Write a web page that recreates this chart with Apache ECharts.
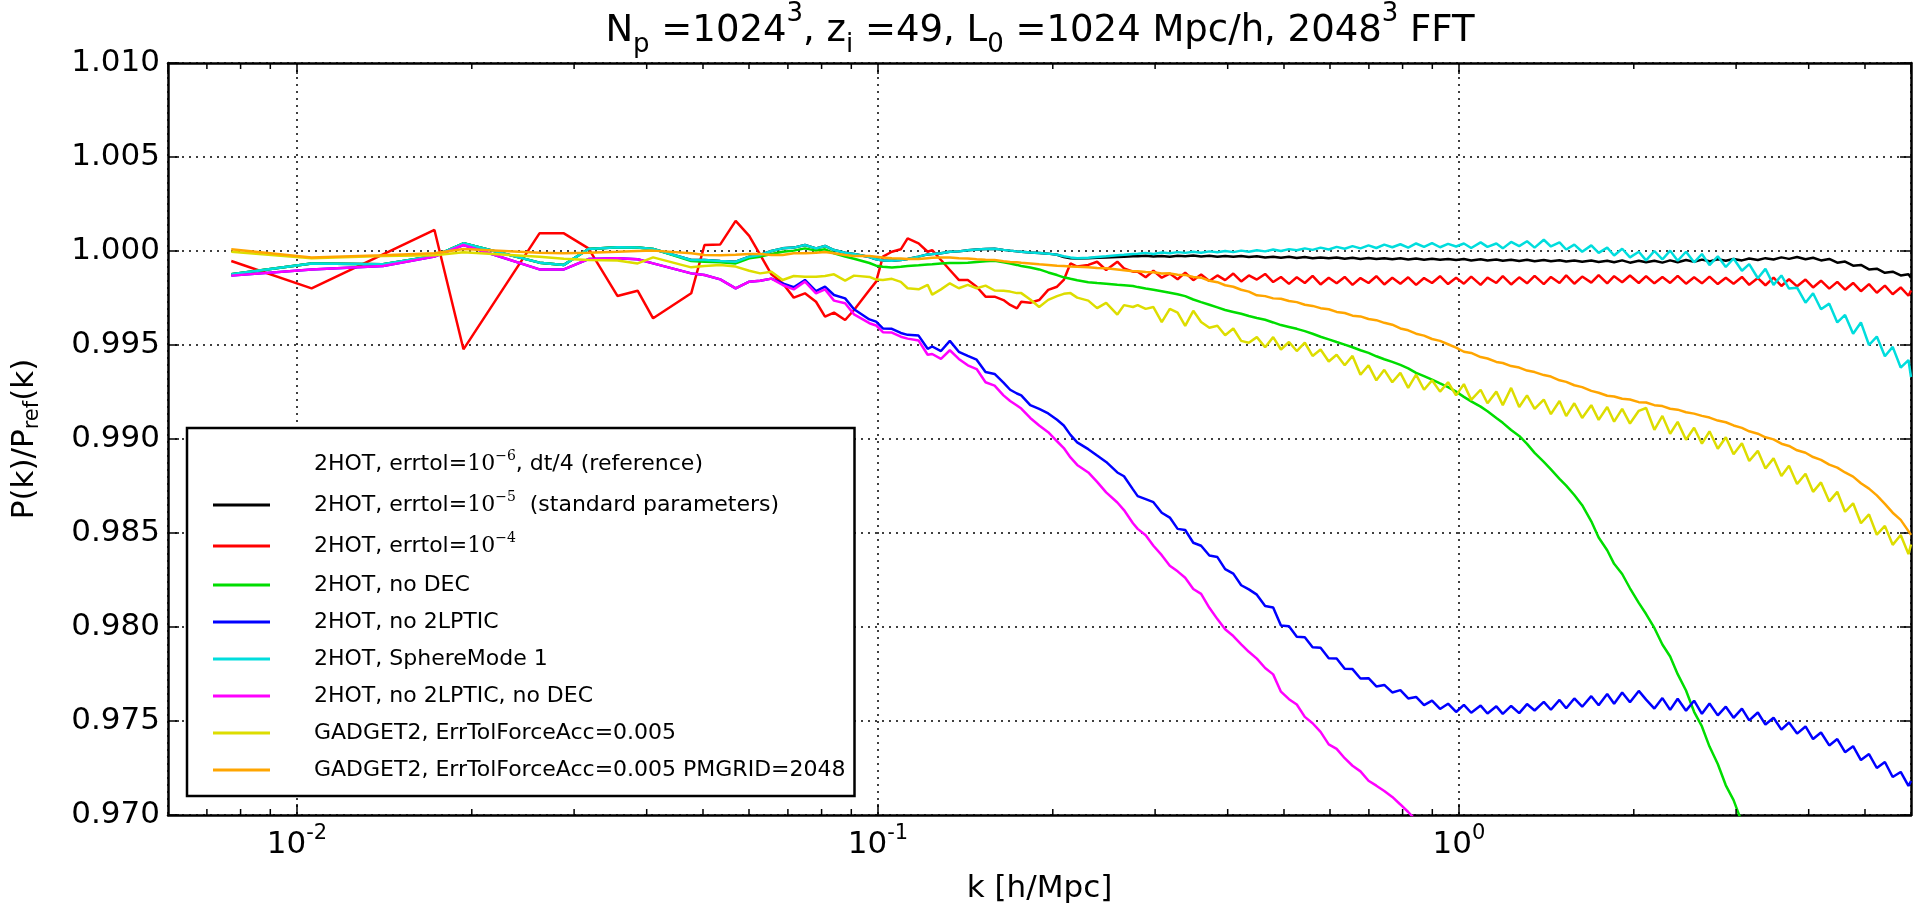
<!DOCTYPE html>
<html>
<head>
<meta charset="utf-8">
<script src="https://cdn.jsdelivr.net/npm/echarts@6/dist/echarts.min.js"></script>
<style>
  html, body { margin: 0; height: 100%; background: #fff; }
  #chart { width: 1923px; height: 910px; }
</style>
</head>
<body>
<div id="chart"></div>
<script>
// k bins [h/Mpc]: discrete low-k points, mid range, dense high-k range
const kLow = [0.00771, 0.0106, 0.01407, 0.01725, 0.01935, 0.02615, 0.02881, 0.03176, 0.03562, 0.03859,
  0.04103, 0.04772, 0.0503, 0.05354, 0.05691, 0.06005, 0.06273, 0.06557, 0.06857, 0.07164,
  0.07489, 0.07825, 0.0811, 0.08403, 0.08782, 0.09098];
const kMid = [0.0967, 0.0993, 0.102, 0.1057, 0.1095, 0.1125, 0.1175, 0.1218, 0.124, 0.1284,
  0.133, 0.1378, 0.1428, 0.1479, 0.1532, 0.1588, 0.1645, 0.1689, 0.1735, 0.1765,
  0.1829, 0.1895, 0.1964, 0.2034, 0.2089, 0.2145, 0.2203, 0.2302, 0.2384, 0.2471,
  0.2583, 0.2652, 0.2748];
const kHigh = [0.280, 0.289, 0.298, 0.308, 0.318, 0.328, 0.338, 0.349, 0.360, 0.372,
  0.384, 0.396, 0.409, 0.422, 0.435, 0.449, 0.464, 0.479, 0.494, 0.510,
  0.526, 0.543, 0.560, 0.578, 0.597, 0.616, 0.636, 0.656, 0.677, 0.699,
  0.721, 0.744, 0.768, 0.793, 0.818, 0.844, 0.871, 0.899, 0.928, 0.958,
  0.989, 1.02, 1.05, 1.09, 1.12, 1.16, 1.19, 1.23, 1.27, 1.31,
  1.35, 1.40, 1.44, 1.49, 1.53, 1.58, 1.63, 1.69, 1.74, 1.80,
  1.85, 1.91, 1.97, 2.04, 2.10, 2.17, 2.24, 2.31, 2.38, 2.46,
  2.54, 2.62, 2.70, 2.79, 2.88, 2.97, 3.07, 3.16, 3.27, 3.37,
  3.48, 3.59, 3.70, 3.82, 3.95, 4.07, 4.20, 4.34, 4.48, 4.62,
  4.77, 4.92, 5.08, 5.24, 5.41, 5.58, 5.76, 5.94, 6.00];
const kAll = kLow.concat(kMid, kHigh);

// P(k)/P_ref(k), in kAll order
const errtol5 = [
  0.99876, 0.99934, 0.99929, 0.99973, 1.00041, 0.99938, 0.99926, 1.00011, 1.0002, 1.00018,
  1.00011, 0.99952, 0.99952, 0.99947, 0.99943, 0.9997, 0.99979, 1.0, 1.00014, 1.00018,
  1.00032, 1.00014, 1.00027, 1.00005, 0.99991, 0.99984,
  0.99968, 0.99956, 0.9995, 0.99948, 0.99952, 0.99958, 0.9997, 0.99982, 0.99984, 0.99988,
  0.99996, 0.99998, 1.00004, 1.00008, 1.0001, 1.00012, 1.00006, 1.00002, 0.99998, 0.99996,
  0.99992, 0.9999, 0.99986, 0.9998, 0.99968, 0.99962, 0.9996, 0.99962, 0.99964, 0.99966,
  0.99968, 0.9997, 0.99972,
  0.99972, 0.99975, 0.99971, 0.99974, 0.99970, 0.99975, 0.99972, 0.99976, 0.99971, 0.99975,
  0.99970, 0.99974, 0.99969, 0.99973, 0.99968, 0.99972, 0.99966, 0.99970, 0.99964, 0.99969,
  0.99963, 0.99968, 0.99962, 0.99966, 0.99961, 0.99965, 0.99959, 0.99964, 0.99958, 0.99963,
  0.99957, 0.99962, 0.99956, 0.99961, 0.99955, 0.99960, 0.99954, 0.99959, 0.99953, 0.99958,
  0.99952, 0.99957, 0.99950, 0.99956, 0.99949, 0.99955, 0.99948, 0.99954, 0.99947, 0.99953,
  0.99946, 0.99952, 0.99945, 0.99951, 0.99944, 0.99950, 0.99943, 0.99949, 0.99942, 0.99948,
  0.99940, 0.99950, 0.99938, 0.99948, 0.99940, 0.99948, 0.99938, 0.99950, 0.99940, 0.99952,
  0.99942, 0.99954, 0.99945, 0.99956, 0.99948, 0.99958, 0.99950, 0.99960, 0.99952, 0.99962,
  0.99955, 0.99966, 0.99958, 0.99968, 0.99956, 0.99964, 0.99950, 0.99958, 0.99938, 0.99944,
  0.99922, 0.99926, 0.99902, 0.99906, 0.99884, 0.99890, 0.99870, 0.99876, 0.99858];
const errtol4 = [
  0.99947, 0.99801, 0.99982, 1.00112, 0.99477, 1.00094, 1.00094, 1.00014, 0.99761, 0.99789,
  0.99642, 0.99775, 1.00032, 1.00035, 1.0016, 1.0008, 0.99979, 0.99876, 0.99828, 0.99752,
  0.99775, 0.9973, 0.99651, 0.99672, 0.99633, 0.99686,
  0.99793, 0.99837, 0.9997, 0.99996, 1.00009, 1.00067, 1.00041, 0.99996, 1.00005, 0.99952,
  0.99899, 0.99846, 0.99846, 0.9981, 0.99757, 0.99757, 0.99739, 0.99713, 0.99695, 0.9973,
  0.99725, 0.99739, 0.99793, 0.9981, 0.99846, 0.99934, 0.99917, 0.99926, 0.99943, 0.99899,
  0.99943, 0.99908, 0.9989,
  0.99890, 0.99860, 0.99895, 0.99858, 0.99880, 0.99850, 0.99885, 0.99845, 0.99875, 0.99840,
  0.99870, 0.99845, 0.99880, 0.99838, 0.99870, 0.99848, 0.99878, 0.99835, 0.99862, 0.99825,
  0.99860, 0.99830, 0.99868, 0.99822, 0.99858, 0.99828, 0.99862, 0.99820, 0.99856, 0.99830,
  0.99866, 0.99822, 0.99858, 0.99826, 0.99860, 0.99820, 0.99856, 0.99830, 0.99866, 0.99824,
  0.99858, 0.99826, 0.99864, 0.99820, 0.99858, 0.99830, 0.99866, 0.99822, 0.99860, 0.99828,
  0.99868, 0.99824, 0.99862, 0.99830, 0.99870, 0.99826, 0.99864, 0.99832, 0.99872, 0.99828,
  0.99866, 0.99834, 0.99870, 0.99830, 0.99866, 0.99828, 0.99862, 0.99830, 0.99868, 0.99826,
  0.99860, 0.99828, 0.99864, 0.99824, 0.99858, 0.99826, 0.99862, 0.99820, 0.99856, 0.99818,
  0.99858, 0.99814, 0.99850, 0.99812, 0.99848, 0.99806, 0.99842, 0.99800, 0.99836, 0.99794,
  0.99830, 0.99786, 0.99824, 0.99778, 0.99816, 0.99770, 0.99806, 0.99762, 0.99790];
const noDEC = [
  0.99876, 0.99934, 0.99929, 0.99973, 1.00041, 0.99938, 0.99926, 1.00011, 1.0002, 1.00018,
  1.00011, 0.99947, 0.99943, 0.9994, 0.99934, 0.99961, 0.9997, 0.99984, 0.99996, 1.00002,
  1.00014, 1.00002, 1.00009, 0.99988, 0.9997, 0.99959,
  0.99936, 0.99922, 0.99916, 0.99912, 0.99916, 0.9992, 0.99924, 0.99928, 0.9993, 0.99934,
  0.99936, 0.99936, 0.99938, 0.99942, 0.99946, 0.99948, 0.9994, 0.99934, 0.99926, 0.9992,
  0.99912, 0.99902, 0.99886, 0.99872, 0.9986, 0.99852, 0.99844, 0.99834, 0.9983, 0.99826,
  0.9982, 0.99818, 0.99814,
  0.99808, 0.99800, 0.99794, 0.99786, 0.99778, 0.99770, 0.99760, 0.99742, 0.99728, 0.99714,
  0.99700, 0.99686, 0.99676, 0.99666, 0.99654, 0.99644, 0.99634, 0.99620, 0.99606, 0.99596,
  0.99586, 0.99574, 0.99560, 0.99544, 0.99530, 0.99516, 0.99502, 0.99488, 0.99472, 0.99458,
  0.99440, 0.99424, 0.99410, 0.99394, 0.99376, 0.99352, 0.99334, 0.99316, 0.99296, 0.99276,
  0.99252, 0.99224, 0.99200, 0.99172, 0.99148, 0.99112, 0.99086, 0.99048, 0.99016, 0.98974,
  0.98926, 0.98878, 0.98838, 0.98788, 0.98752, 0.98702, 0.98648, 0.98562, 0.98476, 0.98408,
  0.98336, 0.98282, 0.98206, 0.98128, 0.98069, 0.97995, 0.97907, 0.97843, 0.97749, 0.97662,
  0.97549, 0.97471, 0.97364, 0.97271, 0.97158, 0.97079, 0.96960];
const no2LPTIC = [
  0.99869, 0.99902, 0.9992, 0.9997, 1.00032, 0.99902, 0.99902, 0.99957, 0.99961, 0.99956,
  0.99934, 0.99881, 0.99872, 0.99849, 0.99801, 0.99837, 0.99842, 0.99853, 0.99828, 0.99807,
  0.99846, 0.99787, 0.9981, 0.99766, 0.99748, 0.9969,
  0.99636, 0.99624, 0.99588, 0.99586, 0.99564, 0.99554, 0.9955, 0.9948, 0.99492, 0.99468,
  0.99522, 0.99464, 0.99442, 0.99422, 0.99356, 0.99346, 0.993, 0.99262, 0.99242, 0.99232,
  0.9918, 0.9916, 0.99136, 0.99102, 0.99072, 0.99022, 0.98982, 0.98946, 0.98912, 0.98878,
  0.98822, 0.98802, 0.98732,
  0.98696, 0.98680, 0.98664, 0.98608, 0.98582, 0.98522, 0.98516, 0.98448, 0.98432, 0.98380,
  0.98372, 0.98308, 0.98284, 0.98222, 0.98200, 0.98172, 0.98112, 0.98104, 0.98008, 0.98004,
  0.97948, 0.97946, 0.97892, 0.97890, 0.97834, 0.97832, 0.97778, 0.97776, 0.97726, 0.97728,
  0.97684, 0.97692, 0.97652, 0.97664, 0.97620, 0.97628, 0.97584, 0.97608, 0.97564, 0.97592,
  0.97548, 0.97586, 0.97544, 0.97582, 0.97540, 0.97578, 0.97538, 0.97580, 0.97542, 0.97590,
  0.97556, 0.97602, 0.97560, 0.97612, 0.97568, 0.97620, 0.97576, 0.97632, 0.97584, 0.97644,
  0.97592, 0.97652, 0.97600, 0.97660, 0.97614, 0.97566, 0.97622, 0.97559, 0.97618, 0.97555,
  0.97608, 0.97538, 0.97593, 0.97530, 0.97576, 0.97517, 0.97566, 0.97503, 0.97545, 0.97481,
  0.97517, 0.97454, 0.97492, 0.97433, 0.97471, 0.97404, 0.97439, 0.97370, 0.97404, 0.97334,
  0.97366, 0.97292, 0.97324, 0.97250, 0.97282, 0.97202, 0.97229, 0.97155, 0.97181];
const sphereMode1 = [
  0.99876, 0.99934, 0.99929, 0.99973, 1.00041, 0.99938, 0.99926, 1.00011, 1.0002, 1.00018,
  1.00011, 0.99952, 0.99952, 0.99947, 0.99943, 0.9997, 0.99979, 1.0, 1.00014, 1.00018,
  1.00032, 1.00014, 1.00027, 1.00005, 0.99991, 0.99984,
  0.99968, 0.99956, 0.9995, 0.99948, 0.99952, 0.99958, 0.9997, 0.99982, 0.99984, 0.99988,
  0.99996, 0.99998, 1.00004, 1.00008, 1.0001, 1.00012, 1.00006, 1.00002, 0.99998, 0.99996,
  0.99992, 0.9999, 0.99986, 0.9998, 0.99972, 0.99966, 0.99962, 0.99964, 0.99968, 0.99972,
  0.99978, 0.9998, 0.99984,
  0.99986, 0.99990, 0.99984, 0.99992, 0.99988, 0.99994, 0.99990, 0.99996, 0.99991, 0.99998,
  0.99993, 1.00000, 0.99994, 1.00002, 0.99996, 1.00004, 0.99998, 1.00008, 1.00000, 1.00010,
  1.00004, 1.00014, 1.00006, 1.00018, 1.00008, 1.00022, 1.00012, 1.00026, 1.00014, 1.00030,
  1.00016, 1.00034, 1.00020, 1.00036, 1.00018, 1.00040, 1.00022, 1.00042, 1.00020, 1.00038,
  1.00024, 1.00040, 1.00016, 1.00046, 1.00022, 1.00040, 1.00014, 1.00048, 1.00026, 1.00052,
  1.00018, 1.00060, 1.00024, 1.00046, 1.00008, 1.00034, 0.99996, 1.00030, 0.99990, 1.00018,
  0.99976, 1.00012, 0.99966, 0.99996, 0.99950, 1.00000, 0.99955, 1.00002, 0.99948, 0.99996,
  0.99940, 0.99984, 0.99925, 0.99972, 0.99915, 0.99960, 0.99895, 0.99930, 0.99855, 0.99905,
  0.99820, 0.99870, 0.99800, 0.99805, 0.99725, 0.99775, 0.99690, 0.99720, 0.99620, 0.99660,
  0.99560, 0.99620, 0.99500, 0.99545, 0.99440, 0.99490, 0.99380, 0.99420, 0.99330];
const no2LPTICnoDEC = [
  0.99869, 0.99902, 0.9992, 0.9997, 1.00032, 0.99902, 0.99902, 0.99957, 0.99961, 0.99956,
  0.99934, 0.99881, 0.99872, 0.99849, 0.99801, 0.99837, 0.99842, 0.99853, 0.99819, 0.99796,
  0.99837, 0.99775, 0.99796, 0.99736, 0.99722, 0.99663,
  0.99616, 0.99604, 0.99568, 0.99566, 0.99544, 0.99534, 0.99524, 0.99448, 0.99452, 0.99426,
  0.99472, 0.99426, 0.99392, 0.99372, 0.99302, 0.99284, 0.99232, 0.99202, 0.99178, 0.99162,
  0.99112, 0.99072, 0.99036, 0.98988, 0.98952, 0.98902, 0.98862, 0.98822, 0.98772, 0.98716,
  0.98662, 0.98622, 0.98552,
  0.98522, 0.98488, 0.98432, 0.98382, 0.98326, 0.98296, 0.98262, 0.98202, 0.98176, 0.98102,
  0.98042, 0.97988, 0.97952, 0.97908, 0.97868, 0.97832, 0.97782, 0.97748, 0.97656, 0.97616,
  0.97588, 0.97522, 0.97488, 0.97442, 0.97376, 0.97352, 0.97302, 0.97262, 0.97232, 0.97182,
  0.97156, 0.97128, 0.97096, 0.97056, 0.97016, 0.96972];
const gadget = [
  0.99996, 0.99961, 0.99973, 0.99977, 0.99993, 0.9997, 0.99959, 0.99952, 0.99949, 0.99934,
  0.99966, 0.99913, 0.9992, 0.99926, 0.99917, 0.99895, 0.99881, 0.9989, 0.99846, 0.99867,
  0.99863, 0.99863, 0.99867, 0.99876, 0.99842, 0.99869,
  0.99862, 0.99848, 0.99846, 0.99852, 0.99836, 0.99802, 0.99796, 0.9982, 0.99768, 0.99796,
  0.99828, 0.99802, 0.9982, 0.99802, 0.99816, 0.9979, 0.99788, 0.99784, 0.99776, 0.99776,
  0.99742, 0.99702, 0.9974, 0.9976, 0.99772, 0.99776, 0.99752, 0.99736, 0.99696, 0.99724,
  0.99662, 0.99712, 0.99702,
  0.99712, 0.99692, 0.99702, 0.99622, 0.99692, 0.99672, 0.99602, 0.99682, 0.99622, 0.99592,
  0.99602, 0.99552, 0.99588, 0.99522, 0.99512, 0.99542, 0.99488, 0.99542, 0.99476, 0.99516,
  0.99468, 0.99512, 0.99442, 0.99476, 0.99412, 0.99448, 0.99392, 0.99442, 0.99342, 0.99392,
  0.99312, 0.99368, 0.99302, 0.99352, 0.99272, 0.99342, 0.99262, 0.99312, 0.99252, 0.99302,
  0.99232, 0.99292, 0.99208, 0.99262, 0.9919, 0.99252, 0.9918, 0.99272, 0.9917, 0.99232,
  0.9916, 0.9921, 0.99132, 0.99202, 0.99122, 0.9919, 0.99112, 0.9918, 0.99102, 0.9917,
  0.99092, 0.9916, 0.99082, 0.9915, 0.99165, 0.99049, 0.99123, 0.99028, 0.99091, 0.98996,
  0.9906, 0.98975, 0.99041, 0.98948, 0.99009, 0.98919, 0.98977, 0.98883, 0.98937, 0.98843,
  0.98897, 0.98803, 0.98858, 0.98761, 0.98815, 0.98719, 0.98769, 0.98668, 0.98719, 0.98613,
  0.98658, 0.98552, 0.98599, 0.98491, 0.98538, 0.98437, 0.98489, 0.98388, 0.98439];
const gadgetPM = [
  1.00009, 0.99965, 0.99977, 0.99988, 1.00011, 0.99991, 0.99988, 0.99991, 0.99996, 1.0,
  1.00002, 0.99988, 0.99979, 0.99977, 0.9998, 0.99984, 0.99984, 0.99979, 0.99979, 0.99988,
  0.99988, 0.99991, 0.99995, 0.99988, 0.99979, 0.99973,
  0.99974, 0.9997, 0.99966, 0.99962, 0.9996, 0.99958, 0.99958, 0.99962, 0.99964, 0.99966,
  0.99966, 0.99962, 0.9996, 0.99956, 0.99954, 0.99952, 0.99946, 0.99942, 0.9994, 0.99938,
  0.99934, 0.9993, 0.99926, 0.99922, 0.9992, 0.99918, 0.99916, 0.99914, 0.9991, 0.99908,
  0.99902, 0.99898, 0.99892,
  0.99892, 0.99888, 0.99887, 0.99880, 0.99881, 0.99874, 0.99873, 0.99862, 0.99858, 0.99842,
  0.99834, 0.99818, 0.99810, 0.99794, 0.99784, 0.99764, 0.99760, 0.99748, 0.99746, 0.99734,
  0.99728, 0.99714, 0.99708, 0.99696, 0.99690, 0.99676, 0.99670, 0.99656, 0.99652, 0.99638,
  0.99632, 0.99618, 0.99608, 0.99588, 0.99578, 0.99560, 0.99550, 0.99532, 0.99522, 0.99504,
  0.99486, 0.99464, 0.99458, 0.99436, 0.99428, 0.99410, 0.99404, 0.99388, 0.99380, 0.99364,
  0.99356, 0.99340, 0.99332, 0.99312, 0.99304, 0.99286, 0.99276, 0.99256, 0.99246, 0.99230,
  0.99226, 0.99214, 0.99210, 0.99196, 0.99194, 0.99180, 0.99175, 0.99161, 0.99156, 0.99142,
  0.99135, 0.99123, 0.99114, 0.99098, 0.99089, 0.99072, 0.99059, 0.99041, 0.99028, 0.99009,
  0.98998, 0.98975, 0.98963, 0.98940, 0.98927, 0.98904, 0.98889, 0.98864, 0.98848, 0.98822,
  0.98800, 0.98765, 0.98736, 0.98700, 0.98655, 0.98608, 0.98570, 0.98510, 0.98490];

const minorK = [0.007, 0.008, 0.009, 0.02, 0.03, 0.04, 0.05, 0.06, 0.07, 0.08, 0.09,
  0.2, 0.3, 0.4, 0.5, 0.6, 0.7, 0.8, 0.9, 2, 3, 4, 5];

const seriesNames = [
  '2HOT, errtol=1e-6, dt/4 (reference)',
  '2HOT, errtol=1e-5 (standard parameters)',
  '2HOT, errtol=1e-4',
  '2HOT, no DEC',
  '2HOT, no 2LPTIC',
  '2HOT, SphereMode 1',
  '2HOT, no 2LPTIC, no DEC',
  'GADGET2, ErrTolForceAcc=0.005',
  'GADGET2, ErrTolForceAcc=0.005 PMGRID=2048'
];
const legendLabels = [
  '{sp| }2HOT, errtol={m|10}{e|\u22126}, dt/4 (reference)',
  '{sp| }2HOT, errtol={m|10}{e|\u22125}  (standard parameters)',
  '{sp| }2HOT, errtol={m|10}{e|\u22124}',
  '{sp| }2HOT, no DEC',
  '{sp| }2HOT, no 2LPTIC',
  '{sp| }2HOT, SphereMode 1',
  '{sp| }2HOT, no 2LPTIC, no DEC',
  '{sp| }GADGET2, ErrTolForceAcc=0.005',
  '{sp| }GADGET2, ErrTolForceAcc=0.005 PMGRID=2048'
];
const seriesValues = [[], errtol5, errtol4, noDEC, no2LPTIC, sphereMode1, no2LPTICnoDEC, gadget, gadgetPM];
const seriesColors = ['#ffffff', '#000000', '#ff0000', '#00dd00', '#0000ff', '#00dddd', '#ff00ff', '#dddd00', '#ffa500'];

const yMin = 0.970, yMax = 1.010;
const font = 'DejaVu Sans';

const chart = echarts.init(document.getElementById('chart'), null, { renderer: 'canvas' });

const lineSeries = seriesNames.map(function (name, i) {
  return {
    name: name,
    type: 'line',
    showSymbol: false,
    symbol: 'none',
    animation: false,
    color: seriesColors[i],
    lineStyle: { width: 2.5, color: seriesColors[i] },
    data: seriesValues[i].map(function (v, j) { return [kAll[j], v]; })
  };
});

const option = {
  animation: false,
  backgroundColor: '#fff',
  title: {
    text: 'N{sub|p} =1024{sup|3}, z{sub|i} =49, L{sub|0} =1024 Mpc/h, 2048{sup|3} FFT',
    left: 1040,
    top: 9,
    padding: 0,
    textAlign: 'center',
    textStyle: {
      fontFamily: font, fontSize: 37, fontWeight: 'normal', color: '#000',
      lineHeight: 44,
      rich: {
        sub: { fontFamily: font, fontSize: 26, lineHeight: 20, padding: [28, 0, 0, 0], color: '#000' },
        sup: { fontFamily: font, fontSize: 26, lineHeight: 20, padding: [0, 0, 34, 0], color: '#000' }
      }
    }
  },
  legend: {
    data: seriesNames,
    orient: 'vertical',
    left: 187,
    top: 428,
    padding: [21, 9, 13, 26],
    itemWidth: 57,
    itemHeight: 3,
    itemGap: 11,
    icon: 'rect',
    selectedMode: false,
    borderColor: '#000',
    borderWidth: 2.5,
    borderRadius: 0,
    backgroundColor: '#fff',
    z: 10,
    formatter: function (name) { return legendLabels[seriesNames.indexOf(name)]; },
    textStyle: {
      fontFamily: font, fontSize: 22, color: '#000', lineHeight: 26,
      rich: {
        sp: { width: 39, fontSize: 22, lineHeight: 26 },
        m: { fontFamily: 'DejaVu Serif', fontSize: 22, lineHeight: 26, color: '#000' },
        e: { fontFamily: 'DejaVu Serif', fontSize: 14, lineHeight: 10, padding: [0, 0, 16, 0], color: '#000' }
      }
    }
  },
  grid: { left: 168, right: 12, top: 63, bottom: 95, containLabel: false, outerBoundsMode: 'none' },
  xAxis: [
    {
      type: 'log', logBase: 10, min: 0.006, max: 6,
      position: 'bottom',
      name: 'k [h/Mpc]', nameLocation: 'middle', nameGap: 58,
      nameTextStyle: { fontFamily: font, fontSize: 31, color: '#000' },
      axisLine: { show: true, onZero: false, lineStyle: { color: '#000', width: 2.5 } },
      axisTick: { show: true, inside: true, length: 11, lineStyle: { color: '#000', width: 1.5 } },
      splitLine: { show: true, lineStyle: { color: '#000', width: 1.5, type: [2, 5] } },
      axisLabel: {
        showMinLabel: false, showMaxLabel: false, margin: 14,
        formatter: function (v) { return '{b|10}{s|' + Math.round(Math.log10(v)) + '}'; },
        rich: {
          b: { fontFamily: font, fontSize: 31, lineHeight: 32, color: '#000' },
          s: { fontFamily: font, fontSize: 21, lineHeight: 16, padding: [0, 0, 22, 0], color: '#000' }
        }
      }
    },
    {
      type: 'log', logBase: 10, min: 0.006, max: 6,
      position: 'top',
      axisLine: { show: true, onZero: false, lineStyle: { color: '#000', width: 2.5 } },
      axisTick: { show: true, inside: true, length: 11, lineStyle: { color: '#000', width: 1.5 } },
      splitLine: { show: false },
      axisLabel: { show: false }
    }
  ],
  yAxis: [
    {
      type: 'value', min: yMin, max: yMax, interval: 0.005,
      position: 'left',
      name: 'P(k)/P{r|ref}(k)', nameLocation: 'middle', nameGap: 128,
      nameTextStyle: {
        fontFamily: font, fontSize: 31, color: '#000',
        rich: { r: { fontFamily: font, fontSize: 21, lineHeight: 16, padding: [16, 0, 0, 0], color: '#000' } }
      },
      axisLine: { show: true, onZero: false, lineStyle: { color: '#000', width: 2.5 } },
      axisTick: { show: true, inside: true, length: 11, lineStyle: { color: '#000', width: 1.5 } },
      splitLine: { show: true, lineStyle: { color: '#000', width: 1.5, type: [2, 5] } },
      axisLabel: {
        margin: 8, fontFamily: font, fontSize: 31, color: '#000',
        formatter: function (v) { return v.toFixed(3); }
      }
    },
    {
      type: 'value', min: yMin, max: yMax, interval: 0.005,
      position: 'right',
      axisLine: { show: true, onZero: false, lineStyle: { color: '#000', width: 2.5 } },
      axisTick: { show: true, inside: true, length: 11, lineStyle: { color: '#000', width: 1.5 } },
      splitLine: { show: false },
      axisLabel: { show: false }
    }
  ],
  series: lineSeries.concat([{
    type: 'custom',
    silent: true,
    clip: false,
    z: 5,
    data: minorK.map(function (k) { return [k, yMin]; }),
    renderItem: function (params, api) {
      const k = api.value(0);
      const b = api.coord([k, yMin]);
      const t = api.coord([k, yMax]);
      return {
        type: 'group',
        children: [
          { type: 'line', shape: { x1: b[0], y1: b[1], x2: b[0], y2: b[1] - 6 }, style: { stroke: '#000', lineWidth: 1.5 } },
          { type: 'line', shape: { x1: t[0], y1: t[1], x2: t[0], y2: t[1] + 6 }, style: { stroke: '#000', lineWidth: 1.5 } }
        ]
      };
    }
  }])
};

chart.setOption(option);
window.addEventListener('resize', chart.resize);
</script>
</body>
</html>
